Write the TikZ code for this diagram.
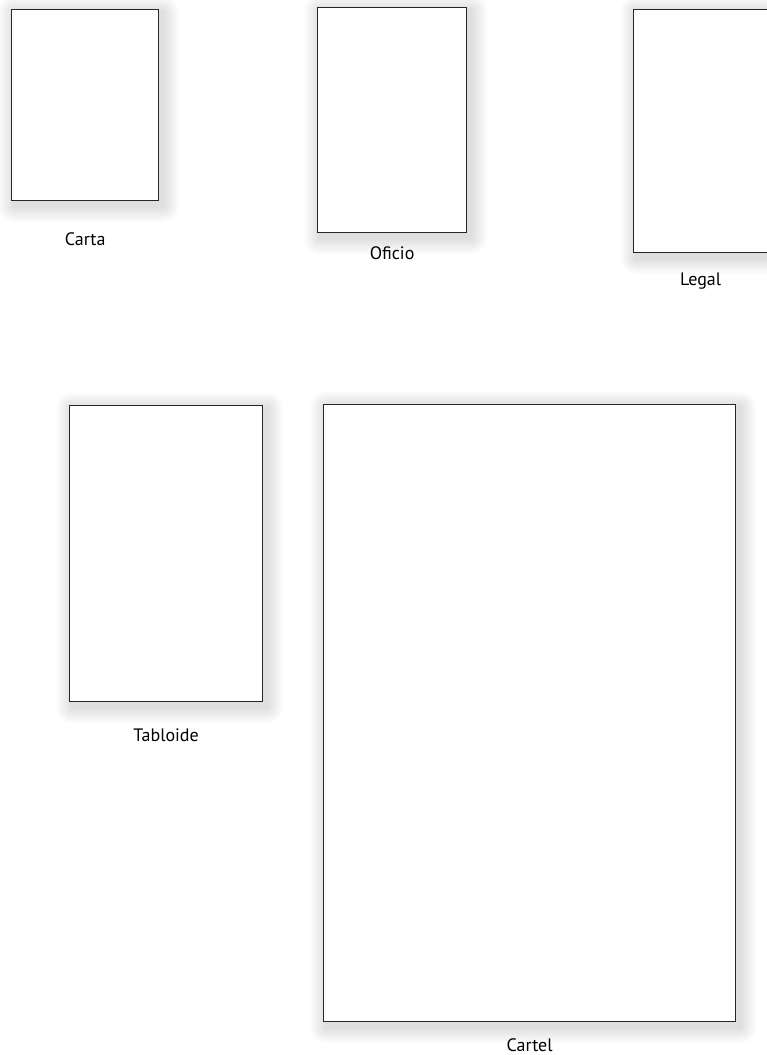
\documentclass[tikz,border=0pt]{standalone}
\usepackage{fontspec}
\setmainfont{PT Sans}
\usetikzlibrary{positioning, calc, backgrounds}

\begin{document}
\begin{tikzpicture}[x=1pt, y=-1pt, every node/.style={inner sep=0pt},
    page/.style={draw=black!85, line width=1.3pt, fill=white, anchor=north west},
    caption/.style={font=\fontsize{18}{20}\selectfont}]
        \useasboundingbox (0,0) rectangle (767,1055);

        % tamaños de papel (fila de arriba)
        \node[page, minimum width=147pt, minimum height=191pt] (carta) at (11,9) {};
        \node[page, minimum width=149pt, minimum height=225pt] (oficio) at (317,7) {};
        \node[page, minimum width=150pt, minimum height=243pt] (legal) at (633,9) {};

        % fila de abajo
        \node[page, minimum width=193pt, minimum height=296pt] (tabloide) at (69,405) {};
        \node[page, minimum width=412pt, minimum height=617pt] (cartel) at (323,404) {};

        % sombras
        \begin{scope}[on background layer]
            \fill[white] (0,0) rectangle (767,1055);
            \foreach \n in {carta, oficio, legal, tabloide, cartel}
                \foreach \r in {1,...,16}
                    \fill[black, opacity=0.009, rounded corners=\r pt]
                        ($(\n.north west)+(3-\r,3-\r)$) rectangle ($(\n.south east)+(4+\r,5+\r)$);
        \end{scope}

        % nombres
        \node[caption, below=31pt of carta] (cartaL) {Carta};
        \node[caption, below=13pt of oficio] (oficioL) {Oficio};
        \node[caption, below=19pt of legal.south, xshift=-8pt] (legalL) {Legal};
        \node[caption, below=26pt of tabloide] (tabloideL) {Tabloide};
        \node[caption, below=16pt of cartel] (cartelL) {Cartel};
    \end{tikzpicture}
\end{document}
